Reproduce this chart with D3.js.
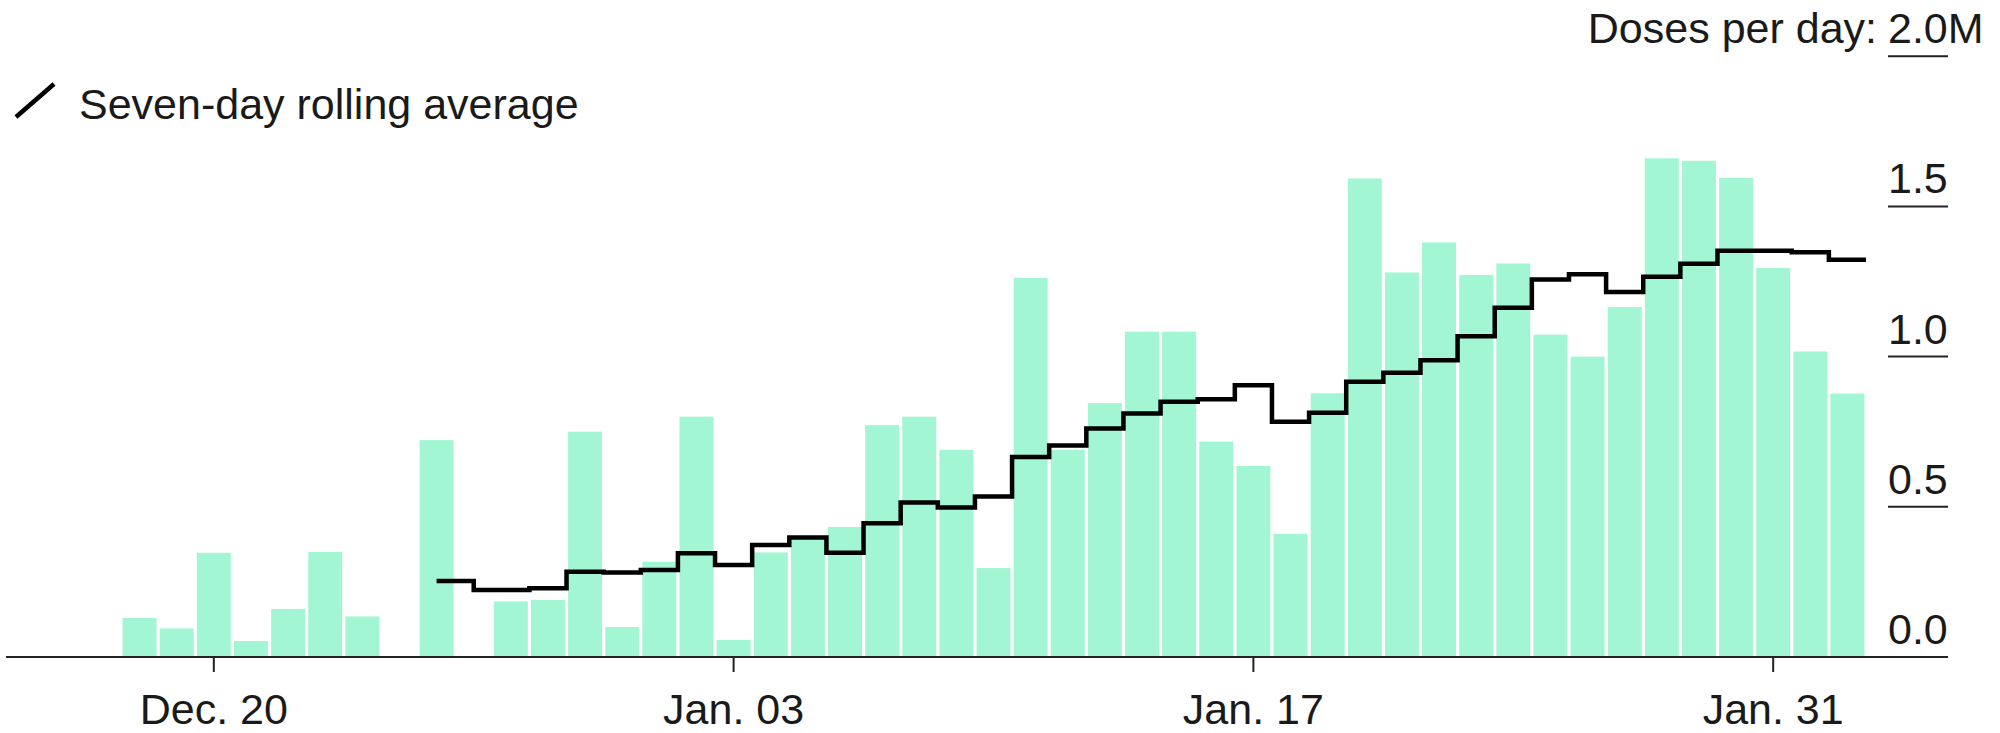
<!DOCTYPE html>
<html>
<head>
<meta charset="utf-8">
<script src="https://cdn.jsdelivr.net/npm/d3@7"></script>
<style>
  html, body { margin: 0; padding: 0; background: #ffffff; }
  svg { display: block; }
  text { font-family: "Liberation Sans", Arial, Helvetica, sans-serif; fill: #1a1a1a; }
</style>
</head>
<body>
<svg id="chart" width="2000" height="733"></svg>
<script>
// ---- Data ----
const days = [
  "Dec 18","Dec 19","Dec 20","Dec 21","Dec 22","Dec 23","Dec 24","Dec 25","Dec 26","Dec 27",
  "Dec 28","Dec 29","Dec 30","Dec 31","Jan 01","Jan 02","Jan 03","Jan 04","Jan 05","Jan 06",
  "Jan 07","Jan 08","Jan 09","Jan 10","Jan 11","Jan 12","Jan 13","Jan 14","Jan 15","Jan 16",
  "Jan 17","Jan 18","Jan 19","Jan 20","Jan 21","Jan 22","Jan 23","Jan 24","Jan 25","Jan 26",
  "Jan 27","Jan 28","Jan 29","Jan 30","Jan 31","Feb 01","Feb 02"
];
// daily doses, millions (null = no report)
const dailyDoses = [
  0.13, 0.095, 0.347, 0.053, 0.16, 0.35, 0.135, null, 0.722, null,
  0.185, 0.19, 0.75, 0.10, 0.317, 0.80, 0.057, 0.348, 0.395, 0.433,
  0.772, 0.80, 0.69, 0.296, 1.262, 0.69, 0.845, 1.083, 1.083, 0.717,
  0.636, 0.41, 0.878, 1.593, 1.28, 1.38, 1.272, 1.31, 1.073, 1.0,
  1.165, 1.66, 1.652, 1.595, 1.295, 1.017, 0.877
];
// seven-day rolling average, millions
const rollingAvg = [
  null, null, null, null, null, null, null, null, 0.253, null,
  0.223, 0.229, 0.284, 0.281, 0.29, 0.345, 0.306, 0.373, 0.398, 0.347,
  0.445, 0.514, 0.498, 0.534, 0.666, 0.704, 0.761, 0.811, 0.85, 0.858,
  0.905, 0.783, 0.813, 0.916, 0.946, 0.988, 1.068, 1.163, 1.257, 1.274,
  1.215, 1.266, 1.309, 1.352, 1.352, 1.347, 1.322
];
const xTickDays = ["Dec 20", "Jan 03", "Jan 17", "Jan 31"];
const xTickLabels = ["Dec. 20", "Jan. 03", "Jan. 17", "Jan. 31"];
const yTicks = [0, 0.5, 1.0, 1.5, 2.0];
const yTickLabels = ["0.0", "0.5", "1.0", "1.5", "2.0M"];
const unitLabel = "Doses per day:";
const legendLabel = "Seven-day rolling average";

// ---- Layout ----
const svg = d3.select("#chart");
const FONT = 43;
const baseY = 657;
const x = d3.scaleBand().domain(days).range([121, 1866]).paddingInner(0.085).paddingOuter(0.0425);
const y = d3.scaleLinear().domain([0, 2]).range([baseY, 56.2]);
const cx = d => x(d) + x.bandwidth() / 2;

// Bars
svg.append("g").selectAll("rect")
  .data(days.map((d, i) => ({ d, v: dailyDoses[i] })).filter(o => o.v != null))
  .join("rect")
  .attr("x", o => x(o.d))
  .attr("width", x.bandwidth())
  .attr("y", o => y(o.v))
  .attr("height", o => y(0) - y(o.v))
  .attr("fill", "#a2f6d3");

// Rolling average step line
const pts = days.map((d, i) => ({ d, v: rollingAvg[i] })).filter(o => o.v != null)
  .map(o => [cx(o.d), y(o.v)]);
const lastPt = pts[pts.length - 1];
pts.push([lastPt[0] + x.step() / 2, lastPt[1]]);
svg.append("path")
  .attr("d", d3.line().curve(d3.curveStep)(pts))
  .attr("fill", "none")
  .attr("stroke", "#000")
  .attr("stroke-width", 4.5);

// X axis baseline
svg.append("line")
  .attr("x1", 6).attr("x2", 1948)
  .attr("y1", baseY).attr("y2", baseY)
  .attr("stroke", "#222").attr("stroke-width", 2);

// X ticks
const xt = svg.append("g");
xTickDays.forEach((d, i) => {
  xt.append("line")
    .attr("x1", cx(d)).attr("x2", cx(d))
    .attr("y1", baseY).attr("y2", baseY + 15)
    .attr("stroke", "#222").attr("stroke-width", 2);
  xt.append("text")
    .attr("x", cx(d)).attr("y", 724)
    .attr("text-anchor", "middle")
    .attr("font-size", FONT)
    .text(xTickLabels[i]);
});

// Y ticks (right side, underline style)
const yt = svg.append("g");
yTicks.forEach((v, i) => {
  yt.append("line")
    .attr("x1", 1888).attr("x2", 1948)
    .attr("y1", y(v)).attr("y2", y(v))
    .attr("stroke", "#222").attr("stroke-width", 2);
  yt.append("text")
    .attr("x", 1888).attr("y", y(v) - 13)
    .attr("font-size", FONT)
    .text(yTickLabels[i]);
});
yt.append("text")
  .attr("x", 1877).attr("y", y(2.0) - 13)
  .attr("text-anchor", "end")
  .attr("font-size", FONT)
  .text(unitLabel);

// Legend
svg.append("line")
  .attr("x1", 16).attr("y1", 117).attr("x2", 54).attr("y2", 84)
  .attr("stroke", "#000").attr("stroke-width", 4.5);
svg.append("text")
  .attr("x", 79).attr("y", 119)
  .attr("font-size", FONT)
  .text(legendLabel);
</script>
</body>
</html>
